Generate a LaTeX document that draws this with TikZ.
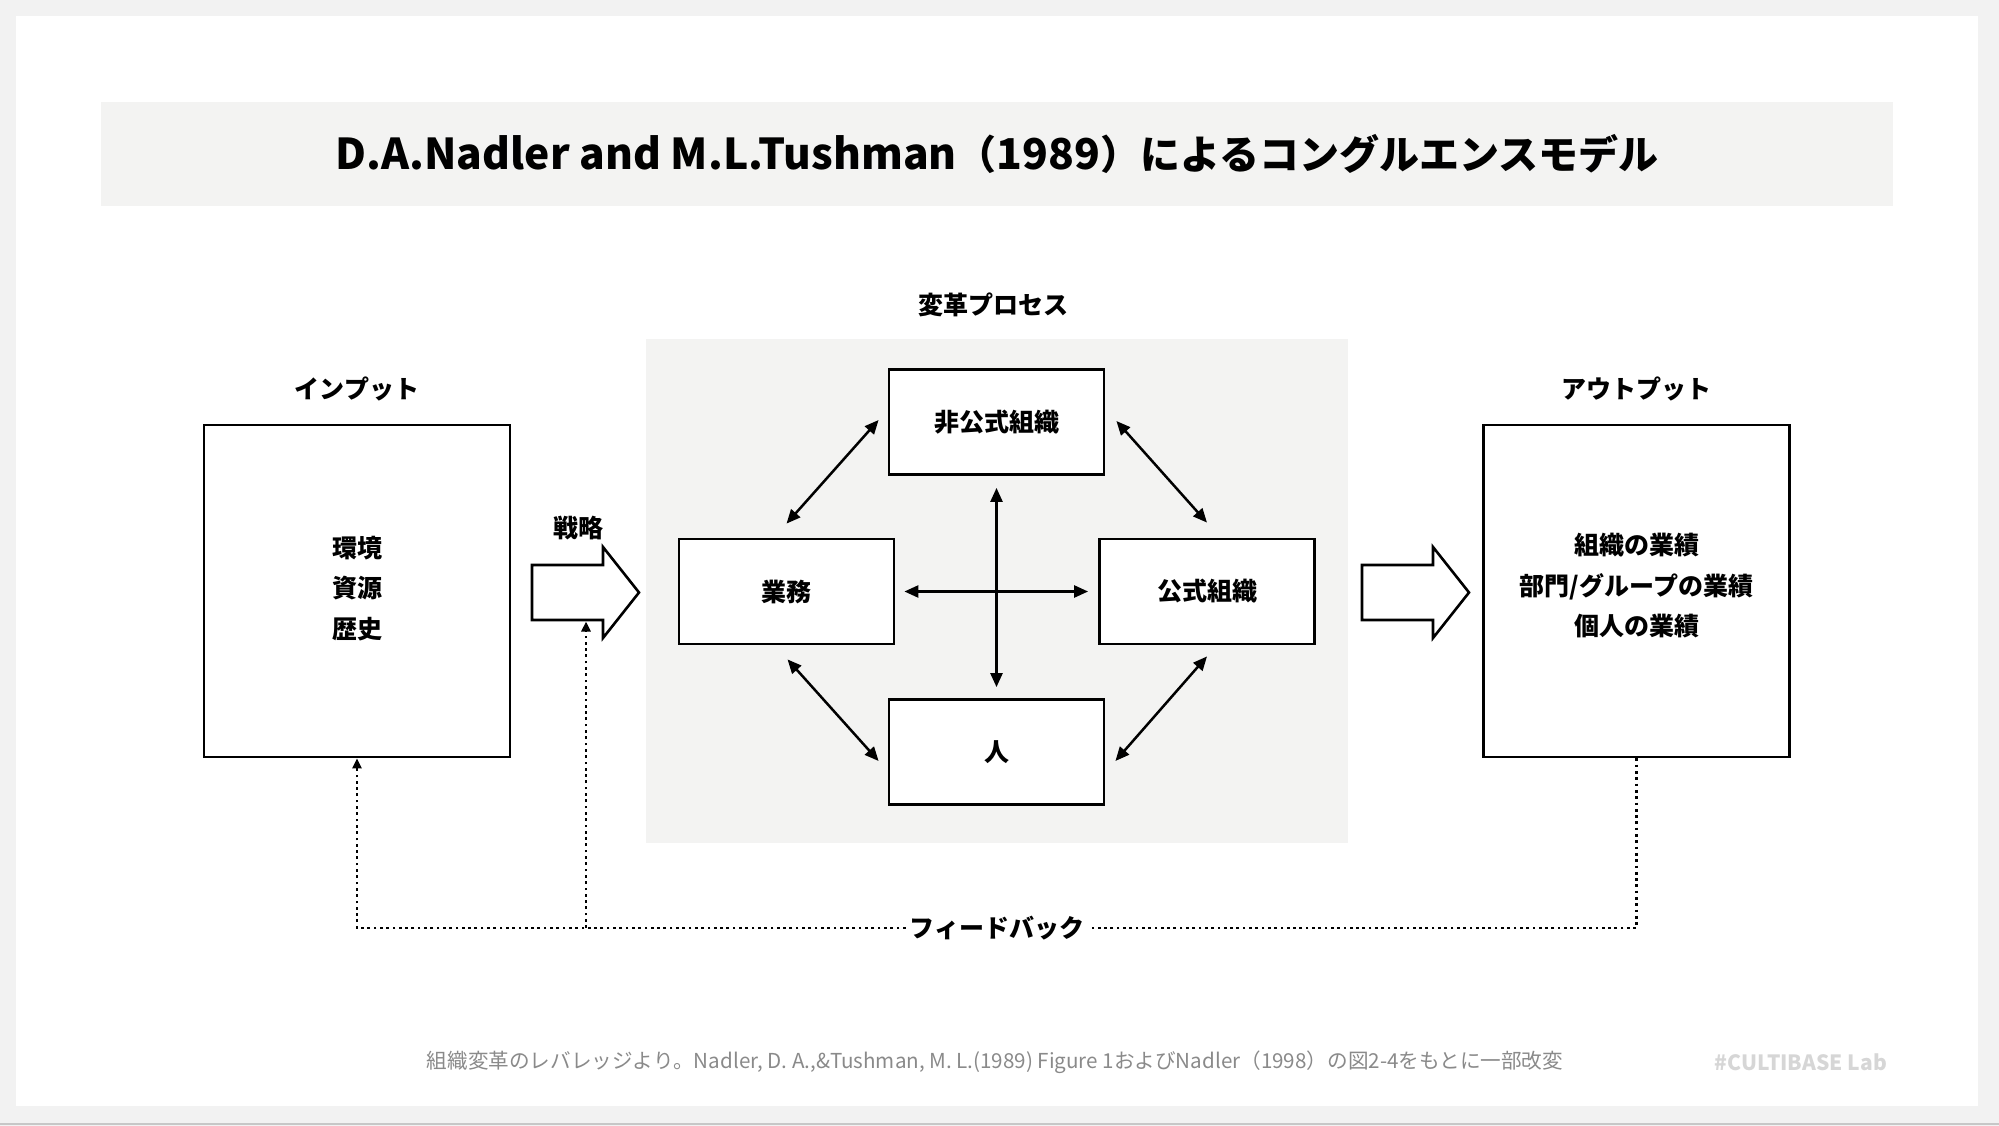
\documentclass[tikz,border=0pt]{standalone}
\usepackage{fontspec}
\setmainfont{Noto Sans CJK JP}
\usetikzlibrary{arrows.meta,calc}
\definecolor{bgg}{HTML}{F2F2F2}
\definecolor{panel}{HTML}{F3F3F2}
\definecolor{foot}{HTML}{8A8A8A}
\definecolor{brandc}{HTML}{D6D6D6}
\tikzset{
  box/.style={draw=black, line width=2.8pt, fill=white, minimum width=215pt, minimum height=105pt, inner sep=0pt, font=\fontsize{25}{30}\selectfont\bfseries},
  bigbox/.style={draw=black, line width=2.8pt, fill=white, minimum width=306pt, minimum height=332pt, inner sep=0pt},
  boxtext/.style={inner sep=0pt, align=center, font=\fontsize{25}{40.5}\selectfont\bfseries},
  lbl/.style={font=\fontsize{25}{30}\selectfont\bfseries, inner sep=0pt},
  rel/.style={line width=2.5pt, {Triangle[length=14pt,width=12pt]}-{Triangle[length=14pt,width=12pt]}},
  fat/.style={draw=black, line width=2.6pt, fill=white, line join=miter},
  fbline/.style={line width=2.7pt, dash pattern=on 2.7pt off 3.6pt},
  fbtip/.style={-{Triangle[length=10pt,width=9pt]}}
}
\newcommand{\latpart}[1]{{\fontsize{42.5}{48}\selectfont #1}}
\begin{document}
\begin{tikzpicture}[x=1pt,y=-1pt]
\useasboundingbox (0,0) rectangle (1999,1126);
\fill[bgg] (0,0) rectangle (1999,1126);
\fill[white] (16,16) rectangle (1978,1106);
\fill[black!22] (0,1122.5) rectangle (1999,1124.5);
% title band
\fill[panel] (101,102) rectangle (1893,206);
\node[font=\fontsize{40}{48}\selectfont\bfseries, inner sep=0pt] (title) at (997,154) {\latpart{D.A.Nadler and M.L.Tushman}（\latpart{1989}）によるコングルエンスモデル};
% process panel
\fill[panel] (646,339) rectangle (1348,843);
\node[lbl] (procl) at (993,305) {変革プロセス};
\node[lbl] (inl) at (357,389) {インプット};
\node[lbl] (outl) at (1636,389) {アウトプット};
\node[lbl] (strat) at (578,528) {戦略};
% big boxes
\node[bigbox] (in) at (357,591) {};
\node[bigbox] (out) at (1636.5,591) {};
\node[boxtext] (intxt) at (357,588.5) {環境\\資源\\歴史};
\node[boxtext] (outtxt) at (1636.5,586) {組織の業績\\部門/グループの業績\\個人の業績};
% inner boxes
\node[box] (task) at (786.5,591.5) {業務};
\node[box] (inf) at (996.5,422) {非公式組織};
\node[box] (form) at (1207,591.5) {公式組織};
\node[box] (ppl) at (996.5,752) {人};
% relations
\draw[rel] ($(task.north)+(0,-14)$) -- ($(inf.west)+(-9,-2)$);
\draw[rel] ($(inf.east)+(11,-1)$) -- ($(form.north)+(0,-15)$);
\draw[rel] ($(task.south)+(1,14)$) -- ($(ppl.west)+(-9,9)$);
\draw[rel] ($(ppl.east)+(10,9)$) -- ($(form.south)+(0,11)$);
\draw[rel] ($(inf.south)+(0,12)$) -- ($(ppl.north)+(0,-11)$);
\draw[rel] ($(task.east)+(9,0)$) -- ($(form.west)+(-10,0)$);
% fat arrows
\draw[fat] (532,565) -- (603,565) -- (603,547) -- (639,592.5) -- (603,638) -- (603,620) -- (532,620) -- cycle;
\draw[fat] (1362,565) -- (1433,565) -- (1433,547) -- (1469,592.5) -- (1433,638) -- (1433,620) -- (1362,620) -- cycle;
\coordinate (sa) at (586,621.5);
% feedback
\node[lbl, fill=white, inner xsep=4pt, inner ysep=2pt] (fbl) at (997,928) {フィードバック};
\draw[fbline] (out.south) -- (out.south |- fbl) -- (fbl.east);
\draw[fbline, fbtip] (fbl.west) -- (in.south |- fbl) -- (in.south);
\draw[fbline, fbtip] (sa |- fbl) -- (sa);
% footer
\node[font=\fontsize{20.6}{22}\selectfont, text=foot, inner sep=0pt] (src) at (995,1062) {組織変革のレバレッジより。Nadler, D. A.,\&Tushman, M. L.(1989) Figure 1およびNadler（1998）の図2-4をもとに一部改変};
\node[font=\fontsize{21}{24}\selectfont\bfseries, text=brandc, anchor=east, inner sep=0pt] (brand) at (1887,1062) {\#CULTIBASE Lab};
\end{tikzpicture}
\end{document}
